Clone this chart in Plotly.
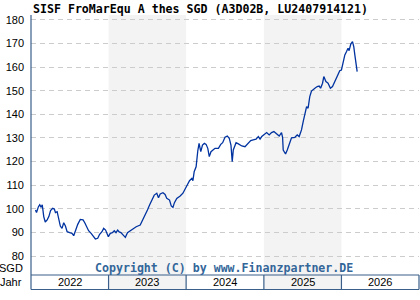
import plotly.graph_objects as go

title_text = "SISF FroMarEqu A thes SGD (A3D02B, LU2407914121)"
copyright_text = "Copyright (C) by www.Finanzpartner.DE"
currency_label = "SGD"
year_axis_label = "Jahr"

dates = [
    "2022-01-22", "2022-01-27", "2022-02-05", "2022-02-11", "2022-02-18", "2022-02-23",
    "2022-03-02", "2022-03-09", "2022-03-18", "2022-03-26", "2022-04-03", "2022-04-13",
    "2022-04-21", "2022-04-26", "2022-05-04", "2022-05-12", "2022-05-19", "2022-05-27",
    "2022-06-04", "2022-06-12", "2022-06-20", "2022-07-02", "2022-07-13", "2022-07-21",
    "2022-07-29", "2022-08-09", "2022-08-21", "2022-09-03", "2022-09-11", "2022-09-22",
    "2022-09-29", "2022-10-11", "2022-10-23", "2022-10-31", "2022-11-11", "2022-11-20",
    "2022-12-01", "2022-12-09", "2022-12-18", "2022-12-25", "2022-12-31",
    "2023-01-09", "2023-01-19", "2023-01-28", "2023-02-05", "2023-02-13", "2023-02-20",
    "2023-02-28", "2023-03-10", "2023-03-21", "2023-03-31", "2023-04-13", "2023-04-26",
    "2023-05-11", "2023-05-30", "2023-06-12", "2023-06-23", "2023-07-03", "2023-07-13",
    "2023-07-24", "2023-08-04", "2023-08-16", "2023-08-24", "2023-09-01", "2023-09-14",
    "2023-09-24", "2023-10-02", "2023-10-15", "2023-10-23", "2023-10-31", "2023-11-07",
    "2023-11-18", "2023-12-04", "2023-12-17", "2023-12-27",
    "2024-01-07", "2024-01-17", "2024-01-28", "2024-02-02", "2024-02-08", "2024-02-17",
    "2024-02-25", "2024-03-02", "2024-03-10", "2024-03-18", "2024-03-27", "2024-04-04",
    "2024-04-12", "2024-04-19", "2024-04-27", "2024-05-05", "2024-05-16", "2024-06-01",
    "2024-06-12", "2024-06-21", "2024-07-02", "2024-07-13", "2024-07-22", "2024-07-30",
    "2024-08-05", "2024-08-10", "2024-08-23", "2024-09-03", "2024-09-19", "2024-10-04",
    "2024-10-20", "2024-10-31", "2024-11-12", "2024-11-25", "2024-12-06", "2024-12-14",
    "2024-12-22",
    "2025-01-01", "2025-01-14", "2025-01-26", "2025-02-06", "2025-02-17", "2025-03-02",
    "2025-03-14", "2025-03-25", "2025-03-30", "2025-04-02", "2025-04-13", "2025-04-21",
    "2025-04-30", "2025-05-11", "2025-05-27", "2025-06-07", "2025-06-16", "2025-06-27",
    "2025-07-05", "2025-07-13", "2025-07-21", "2025-07-28", "2025-08-05", "2025-08-13",
    "2025-08-21", "2025-08-29", "2025-09-09", "2025-09-18", "2025-09-25", "2025-10-04",
    "2025-10-10", "2025-10-20", "2025-10-30", "2025-11-10", "2025-11-20", "2025-12-01",
    "2025-12-11", "2025-12-24",
    "2026-01-01", "2026-01-09", "2026-01-17", "2026-01-25", "2026-02-01", "2026-02-06",
    "2026-02-14", "2026-02-22", "2026-02-28", "2026-03-05", "2026-03-10", "2026-03-16",
]

prices = [
    99.5, 98.4, 100.9, 101.7, 100.6, 101.7,
    96.7, 94.4, 95.3, 96.7, 99.2, 100.2,
    99.9, 98.4, 98.8, 95.3, 92.7, 91.7,
    94.1, 92.7, 90.3, 89.9, 89.6, 88.6,
    91.0, 93.4, 95.5, 95.3, 94.1, 92.4,
    90.7, 89.6, 87.8, 87.2, 87.5, 89.2,
    90.3, 91.7, 91.0, 89.6, 88.2,
    89.6, 89.9, 90.7, 89.9, 91.0, 90.2,
    89.9, 88.9, 87.9, 89.9, 90.7, 91.7,
    92.4, 93.1, 95.3, 97.4, 99.5, 101.6,
    103.7, 105.8, 106.6, 104.7, 106.3, 106.8,
    106.1, 104.4, 103.7, 101.2, 100.6, 102.6,
    104.4, 105.4, 106.6, 108.3,
    110.8, 111.9, 112.9, 111.9, 115.7, 117.8,
    124.6, 127.7, 124.2, 127.0, 127.7, 127.3,
    125.6, 122.1, 124.2, 124.9, 125.6, 125.6,
    127.3, 128.0, 130.3, 130.8, 129.9, 127.0,
    120.0, 124.9, 128.0, 127.5, 126.6, 126.3,
    128.0, 128.9, 129.2, 129.5, 130.6, 129.5,
    130.6,
    131.3, 132.3, 131.3, 132.3, 132.7, 131.7,
    130.8, 132.3, 130.3, 124.9, 123.2, 124.9,
    127.5, 130.1, 130.3, 131.3, 130.6, 133.4,
    136.9, 140.5, 143.3, 142.6, 147.5, 149.9,
    150.6, 151.1, 151.8, 152.0, 151.1, 153.2,
    156.0, 153.9, 153.2, 151.1, 151.8, 153.9,
    156.0, 158.5,
    158.8, 161.6, 165.2, 166.6, 168.0, 167.0,
    169.8, 170.8, 168.7, 165.2, 161.6, 158.1,
]

years = [2022, 2023, 2024, 2025, 2026]
shaded_years = [2023, 2025]
y_ticks = [80, 90, 100, 110, 120, 130, 140, 150, 160, 170, 180]

BORDER = "#3a5f8a"
BAND = "#f3f3f3"
STRIP = 14.5 / 260.0

fig = go.Figure()
fig.add_trace(go.Scatter(
    x=dates, y=prices, mode="lines",
    line=dict(color="#0033a0", width=1.3),
    hoverinfo="skip", showlegend=False,
))

shapes = []
for yr in shaded_years:
    shapes.append(dict(type="rect", xref="x", yref="paper",
                       x0=f"{yr}-01-01", x1=f"{yr + 1}-01-01", y0=-STRIP, y1=1,
                       fillcolor=BAND, line=dict(width=0), layer="below"))
# strip borders
shapes.append(dict(type="line", xref="paper", yref="paper", x0=0, x1=1, y0=0, y1=0,
                   line=dict(color=BORDER, width=1.2)))
shapes.append(dict(type="line", xref="paper", yref="paper", x0=0, x1=1, y0=-STRIP, y1=-STRIP,
                   line=dict(color=BORDER, width=1.2)))
shapes.append(dict(type="line", xref="paper", yref="paper", x0=0, x1=0, y0=-STRIP, y1=1,
                   line=dict(color=BORDER, width=1.2)))
shapes.append(dict(type="line", xref="paper", yref="paper", x0=1, x1=1, y0=-STRIP, y1=0,
                   line=dict(color=BORDER, width=1.2)))
for yr in years[1:]:
    shapes.append(dict(type="line", xref="x", yref="paper",
                       x0=f"{yr}-01-01", x1=f"{yr}-01-01", y0=-STRIP, y1=0,
                       line=dict(color=BORDER, width=1.2)))

label_font = dict(family="Liberation Sans, Arial, sans-serif", size=11, color="#000000")
mono_bold = "DejaVu Sans Mono, Liberation Mono, monospace"

annotations = []
for yr in years:
    annotations.append(dict(xref="x", yref="paper", x=f"{yr}-07-02", y=-STRIP / 2,
                            text=str(yr), showarrow=False, font=label_font,
                            xanchor="center", yanchor="middle"))
annotations.append(dict(xref="paper", yref="paper", x=0, y=-STRIP / 2, xshift=-7,
                        text=year_axis_label, showarrow=False, font=label_font,
                        xanchor="right", yanchor="middle"))
annotations.append(dict(xref="paper", yref="paper", x=0, y=7.5 / 260, xshift=-6,
                        text=currency_label, showarrow=False, font=label_font,
                        xanchor="right", yanchor="middle"))
annotations.append(dict(xref="paper", yref="paper", x=(224 - 31) / 388, y=7.5 / 260,
                        text="<b>" + copyright_text + "</b>", showarrow=False,
                        font=dict(family=mono_bold, size=11.6, color="#336699"),
                        xanchor="center", yanchor="middle"))
annotations.append(dict(xref="paper", yref="paper", x=0, y=1 + 6.5 / 260, xshift=-0.5,
                        text="<b>" + title_text + "</b>", showarrow=False,
                        font=dict(family=mono_bold, size=11.6, color="#000000"),
                        xanchor="left", yanchor="middle"))

fig.update_layout(
    width=420, height=300,
    margin=dict(l=31, r=1, t=15, b=25, pad=0),
    paper_bgcolor="#ffffff", plot_bgcolor="#ffffff",
    shapes=shapes, annotations=annotations,
    hovermode=False,
    xaxis=dict(range=["2022-01-01", "2027-01-01"], showgrid=False, zeroline=False,
               showticklabels=False, ticks="", showline=False, fixedrange=True),
    yaxis=dict(range=[71.95, 182.1], tickvals=y_ticks, ticktext=[str(v) for v in y_ticks],
               showgrid=True, gridcolor="#cccccc", griddash="5px,4px", gridwidth=1,
               zeroline=False, ticks="", showline=False, tickfont=label_font,
               ticklabelstandoff=6, fixedrange=True),
)

fig.write_html("out.html", config={"displayModeBar": False, "staticPlot": True})
